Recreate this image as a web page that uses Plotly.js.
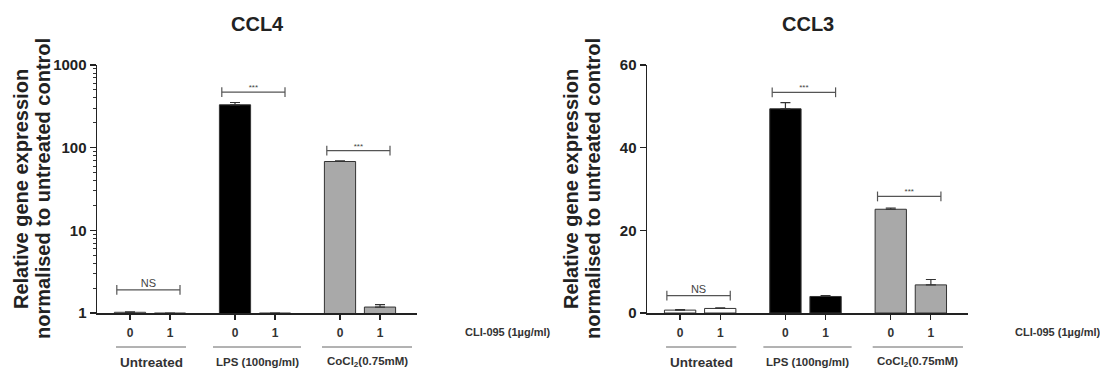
<!DOCTYPE html>
<html>
<head>
<meta charset="utf-8">
<script src="https://cdn.plot.ly/plotly-3.0.1.min.js"></script>
<style>html,body{margin:0;padding:0;background:#fff;}#chart{width:1100px;height:373px;}</style>
</head>
<body>
<div id="chart"></div>
<script>
// ---- data ----
var groups = ["Untreated", "LPS (100ng/ml)", "CoCl<sub>2</sub>(0.75mM)"];
var cliLevels = ["0", "1"];
var cliLabel = "CLI-095 (1µg/ml)";
var panelTitles = ["CCL4", "CCL3"];
var yTitleLines = ["Relative gene expression", "normalised to untreated control"];

var ccl4Values = [1.02, 1.0, 330, 1.0, 68, 1.18];
var ccl4Errors = [0.01, 0, 22, 0, 1.5, 0.08];
var ccl3Values = [0.7, 1.1, 49.4, 4.0, 25.1, 6.8];
var ccl3Errors = [0.1, 0.15, 1.5, 0.2, 0.3, 1.3];

var ccl4Sig = ["NS", "***", "***"];
var ccl4SigY = [1.9, 470, 92];
var ccl3Sig = ["NS", "***", "***"];
var ccl3SigY = [4.2, 53.4, 28.2];

var ccl4Ticks = [1, 10, 100, 1000];
var ccl3Ticks = [0, 20, 40, 60];

// ---- styles ----
var groupColors = ["#ffffff", "#000000", "#a9a9a9"];
var FONT = "Liberation Sans, Arial, sans-serif";
var GROUP_STEP = 2.625;

var xs = [], xTickText = [], barColors = [];
groups.forEach(function (g, gi) {
  cliLevels.forEach(function (c, ci) {
    xs.push(gi * GROUP_STEP + ci);
    xTickText.push(c);
    barColors.push(groupColors[gi]);
  });
});

function barTrace(vals, errs, xa, ya) {
  return {
    type: "bar", x: xs, y: vals, xaxis: xa, yaxis: ya, width: 0.78,
    marker: { color: barColors, line: { color: "#333", width: 1 } },
    error_y: { type: "data", symmetric: false, array: errs,
      arrayminus: errs.map(function () { return 0; }),
      color: "#333", thickness: 1.2, width: 5 },
    showlegend: false, hoverinfo: "skip"
  };
}

function bracketTraces(labels, ys, xa, ya) {
  var out = [];
  labels.forEach(function (lab, gi) {
    var x0 = gi * GROUP_STEP - 0.33, x1 = gi * GROUP_STEP + 1.25;
    out.push({
      type: "scatter", mode: "lines+markers", x: [x0, x1], y: [ys[gi], ys[gi]],
      xaxis: xa, yaxis: ya, line: { color: "#555", width: 1.2 },
      marker: { symbol: "line-ns-open", size: 7, color: "#555", line: { color: "#555", width: 1.2 } },
      showlegend: false, hoverinfo: "skip"
    });
    out.push({
      type: "scatter", mode: "text", x: [(x0 + x1) / 2], y: [ys[gi]],
      xaxis: xa, yaxis: ya, text: [lab], textposition: "top center",
      textfont: { family: FONT, size: lab === "NS" ? 11 : 8, color: "#444" },
      showlegend: false, hoverinfo: "skip"
    });
  });
  return out;
}

var data = [barTrace(ccl4Values, ccl4Errors, "x", "y"), barTrace(ccl3Values, ccl3Errors, "x2", "y2")]
  .concat(bracketTraces(ccl4Sig, ccl4SigY, "x", "y"))
  .concat(bracketTraces(ccl3Sig, ccl3SigY, "x2", "y2"));

var minorLog = [];
[1, 10, 100].forEach(function (d) { for (var k = 2; k <= 9; k++) minorLog.push(d * k); });

var yDomain = [60 / 373, 308 / 373];
function xAxis(domain, anchor) {
  return {
    domain: domain, anchor: anchor, range: [-0.825, 7.175], showgrid: false, zeroline: false,
    showline: true, linecolor: "#222", linewidth: 1.5,
    tickmode: "array", tickvals: xs, ticktext: xTickText,
    ticks: "outside", ticklen: 5, tickcolor: "#222", tickwidth: 1.2, ticklabelstandoff: 3,
    tickfont: { family: FONT, size: 12, color: "#333", weight: "bold" }, fixedrange: true
  };
}
function yTickFont() { return { family: FONT, size: 15, color: "#222", weight: "bold" }; }

var layout = {
  width: 1100, height: 373, margin: { l: 0, r: 0, t: 0, b: 0 },
  paper_bgcolor: "#fff", plot_bgcolor: "#fff", bargap: 0,
  font: { family: FONT, color: "#222" },
  xaxis: xAxis([97 / 1100, 417 / 1100], "y"),
  xaxis2: xAxis([647 / 1100, 968 / 1100], "y2"),
  yaxis: {
    domain: yDomain, anchor: "x", type: "log", range: [0, 3], showgrid: false, zeroline: false,
    showline: true, linecolor: "#222", linewidth: 1.5,
    tickmode: "array", tickvals: ccl4Ticks, ticktext: ccl4Ticks.map(String),
    ticks: "outside", ticklen: 6, tickcolor: "#222", tickwidth: 1.2, tickfont: yTickFont(),
    minor: { tickmode: "array", tickvals: minorLog, ticks: "outside", ticklen: 3, tickcolor: "#333", tickwidth: 1 },
    fixedrange: true
  },
  yaxis2: {
    domain: yDomain, anchor: "x2", range: [0, 60], showgrid: false, zeroline: false,
    showline: true, linecolor: "#222", linewidth: 1.5,
    tickmode: "array", tickvals: ccl3Ticks, ticktext: ccl3Ticks.map(String),
    ticks: "outside", ticklen: 6, tickcolor: "#222", tickwidth: 1.2, tickfont: yTickFont(),
    fixedrange: true
  },
  shapes: [], annotations: []
};

var lineSpans = [[-0.35, 1.4], [-0.55, 1.65], [-0.45, 1.8]];
var titleLineX = [21, 43];
["x", "x2"].forEach(function (xa, pi) {
  var dom = pi === 0 ? layout.xaxis.domain : layout.xaxis2.domain;
  var off = pi * 550;
  layout.annotations.push({
    xref: "paper", yref: "paper", x: (dom[0] + dom[1]) / 2, y: 1 - 24 / 373,
    text: "<b>" + panelTitles[pi] + "</b>", showarrow: false,
    font: { family: FONT, size: 20, color: "#222" }, xanchor: "center", yanchor: "middle"
  });
  yTitleLines.forEach(function (t, li) {
    layout.annotations.push({
      xref: "paper", yref: "paper", x: (off + titleLineX[li]) / 1100, y: 1 - 189 / 373,
      text: "<b>" + t + "</b>", showarrow: false, textangle: -90,
      font: { family: FONT, size: 20, color: "#222" }, xanchor: "center", yanchor: "middle"
    });
  });
  layout.annotations.push({
    xref: "paper", yref: "paper", x: (off + 463) / 1100, y: 1 - 332 / 373,
    text: "<b>" + cliLabel + "</b>", showarrow: false, font: { family: FONT, size: 11, color: "#333" },
    xanchor: "left", yanchor: "middle"
  });
  groups.forEach(function (g, gi) {
    var sp = lineSpans[gi];
    layout.shapes.push({
      type: "line", xref: xa, yref: "paper",
      x0: gi * GROUP_STEP + sp[0], x1: gi * GROUP_STEP + sp[1],
      y0: 1 - 347 / 373, y1: 1 - 347 / 373, line: { color: "#666", width: 1 }
    });
    layout.annotations.push({
      xref: xa, yref: "paper", x: gi * GROUP_STEP + (sp[0] + sp[1]) / 2, y: 1 - 362 / 373,
      text: "<b>" + g + "</b>", showarrow: false,
      font: { family: FONT, size: gi === 0 ? 13.5 : 11.5, color: "#333" },
      xanchor: "center", yanchor: "middle"
    });
  });
});

Plotly.newPlot("chart", data, layout, { displayModeBar: false, staticPlot: true });
</script>
</body>
</html>
